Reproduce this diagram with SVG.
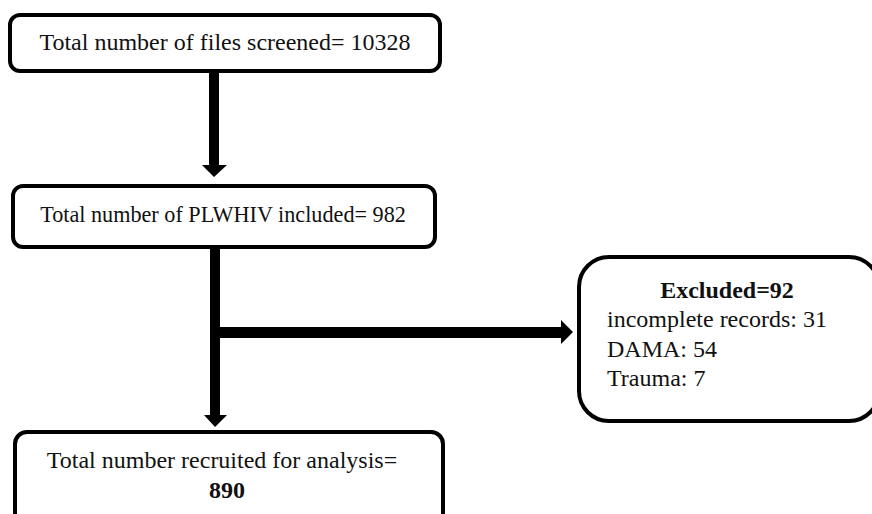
<svg xmlns="http://www.w3.org/2000/svg" width="872" height="514" viewBox="0 0 872 514">
  <style>
    .box { fill: #ffffff; stroke: #000000; stroke-width: 4; }
    .t { font-family: "Liberation Serif", "Times New Roman", serif; font-size: 24px; fill: #111111; }
    .s { font-size: 22.2px; }
    .c { text-anchor: middle; }
    .b { font-weight: bold; }
    .arrow { fill: #000000; }
  </style>
  <rect width="872" height="514" fill="#ffffff"/>

  <g id="connectors">
    <!-- screened -> included -->
    <path class="arrow" d="M209,73 H219 V165 H227 L214,177 L202,165 H209 Z"/>
    <!-- included -> recruited -->
    <path class="arrow" d="M210,249 H220 V415 H227 L215,427 L204,415 H210 Z"/>
    <!-- branch -> excluded -->
    <path class="arrow" d="M220,327 H561 V320 L573,332 L561,344 V338 H220 Z"/>
  </g>

  <g id="node-screened">
    <rect class="box" x="10" y="15" width="430" height="56" rx="10"/>
    <text class="t c" x="225" y="50">Total number of files screened= 10328</text>
  </g>

  <g id="node-included">
    <rect class="box" x="13" y="186" width="422" height="61" rx="10"/>
    <text class="t s c" x="223" y="222">Total number of PLWHIV included= 982</text>
  </g>

  <g id="node-excluded">
    <rect class="box" x="579" y="257" width="300" height="164" rx="30"/>
    <text class="t c b" x="727" y="298">Excluded=92</text>
    <text class="t" x="607" y="327">incomplete records: 31</text>
    <text class="t" x="607" y="357">DAMA: 54</text>
    <text class="t" x="607" y="386">Trauma: 7</text>
  </g>

  <g id="node-recruited">
    <rect class="box" x="15" y="432" width="428" height="100" rx="12"/>
    <text class="t c" x="222" y="468">Total number recruited for analysis=</text>
    <text class="t c b" x="227" y="498">890</text>
  </g>
</svg>
